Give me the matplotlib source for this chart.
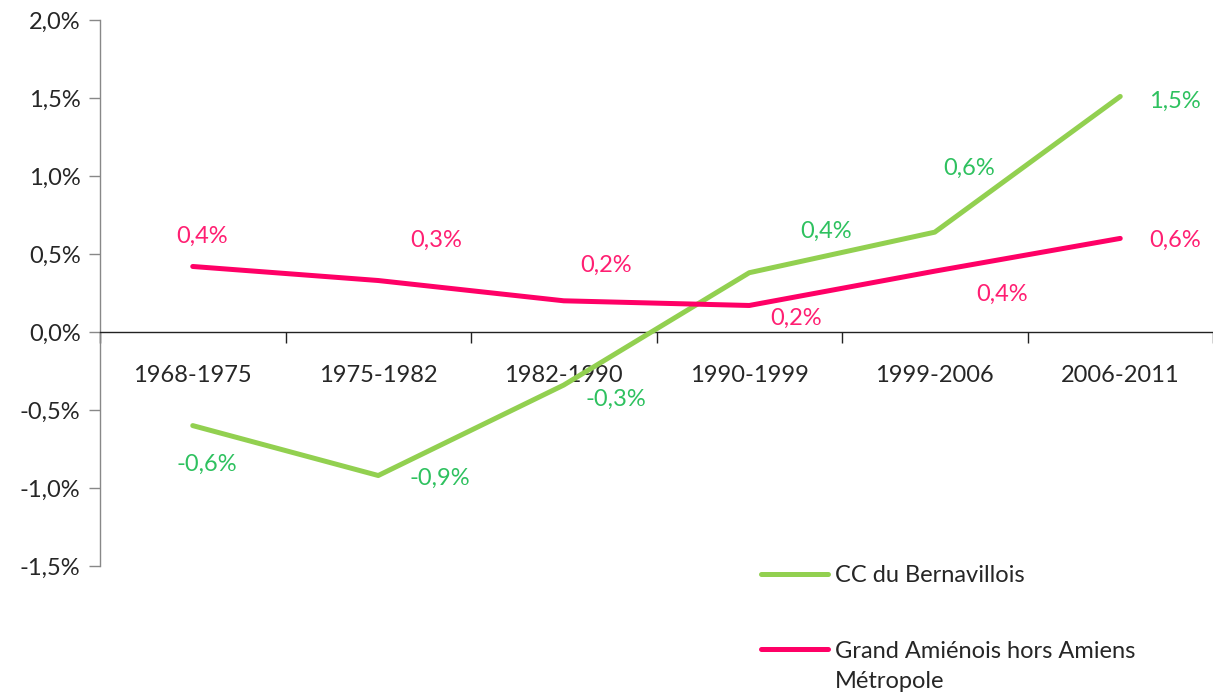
import matplotlib
matplotlib.use("Agg")
import matplotlib.pyplot as plt
from matplotlib.ticker import FixedLocator

categories = ["1968-1975", "1975-1982", "1982-1990", "1990-1999", "1999-2006", "2006-2011"]
bernavillois = [-0.60, -0.92, -0.34, 0.38, 0.64, 1.51]
grand_amienois = [0.42, 0.33, 0.20, 0.17, 0.39, 0.60]
series_names = ["CC du Bernavillois", "Grand Amiénois hors Amiens"]
series_name_cont = "Métropole"
y_ticks = [-1.5, -1.0, -0.5, 0.0, 0.5, 1.0, 1.5, 2.0]

green_line = "#92D050"
green_text = "#2EC15F"
pink_line = "#FF0066"
pink_text = "#FF1F72"

# label offsets in pixels (style only)
green_off = [(14, -39), (62, -3), (52, -14), (77, 41), (34, 64), (55, -5)]
pink_off = [(9, 30), (58, 40), (42, 35), (47, -13), (67, -23), (55, -2)]

plt.rcParams['font.family'] = ['Lato', 'DejaVu Sans']
FS = 17

fig = plt.figure(figsize=(12.13, 6.94), dpi=100)
ax = fig.add_axes([100/1213, 1 - 566/694, 1 - 100/1213 + 0.0, (566 - 20)/694])

x = list(range(len(categories)))
l1, = ax.plot(x, bernavillois, color=green_line, lw=3.6, solid_capstyle='round', solid_joinstyle='round', zorder=3)
l2, = ax.plot(x, grand_amienois, color=pink_line, lw=3.6, solid_capstyle='round', solid_joinstyle='round', zorder=3)

def fmt(v):
    return ("%.1f%%" % v).replace(".", ",")

for xi, v, off in zip(x, bernavillois, green_off):
    ax.annotate(fmt(v), (xi, v), xytext=off, textcoords='offset pixels',
                ha='center', va='center', color=green_text, fontsize=FS)
for xi, v, off in zip(x, grand_amienois, pink_off):
    ax.annotate(fmt(v), (xi, v), xytext=off, textcoords='offset pixels',
                ha='center', va='center', color=pink_text, fontsize=FS)

ax.set_xlim(-0.5, len(categories) - 0.5)
ax.set_ylim(-1.5, 2.0)
ax.set_yticks(y_ticks)
ax.set_yticklabels([fmt(v) for v in y_ticks], fontsize=FS, color="#262626")

ax.spines['top'].set_visible(False)
ax.spines['right'].set_visible(False)
ax.spines['left'].set_color("#888888")
ax.spines['left'].set_linewidth(1.0)
ax.spines['bottom'].set_position(('data', 0))
ax.spines['bottom'].set_color("#222222")
ax.spines['bottom'].set_linewidth(1.0)

ax.tick_params(axis='y', direction='out', length=8, width=1.0, color="#888888", pad=6)
ax.set_xticks(x)
ax.set_xticklabels(categories, fontsize=FS, color="#262626")
ax.tick_params(axis='x', which='major', length=0, pad=24)
ax.xaxis.set_minor_locator(FixedLocator([i - 0.5 for i in range(len(categories) + 1)]))
ax.tick_params(axis='x', which='minor', direction='out', length=8, width=1.0, color="#222222")

leg = fig.legend([l1, l2], series_names, loc='upper left',
                 bbox_to_anchor=(752/1213, 1 - 556/694), frameon=False,
                 fontsize=FS, handlelength=2.8, handletextpad=0.3,
                 labelspacing=2.3, borderaxespad=0)
for t in leg.get_texts():
    t.set_color("#262626")

# continuation line of the second legend entry
fig.canvas.draw()
ax.annotate(series_name_cont, xy=(0, 0), xycoords=leg.get_texts()[1],
            xytext=(0, -9), textcoords='offset pixels',
            ha='left', va='top', fontsize=FS, color="#262626")

fig.savefig("out.png", dpi=100)
